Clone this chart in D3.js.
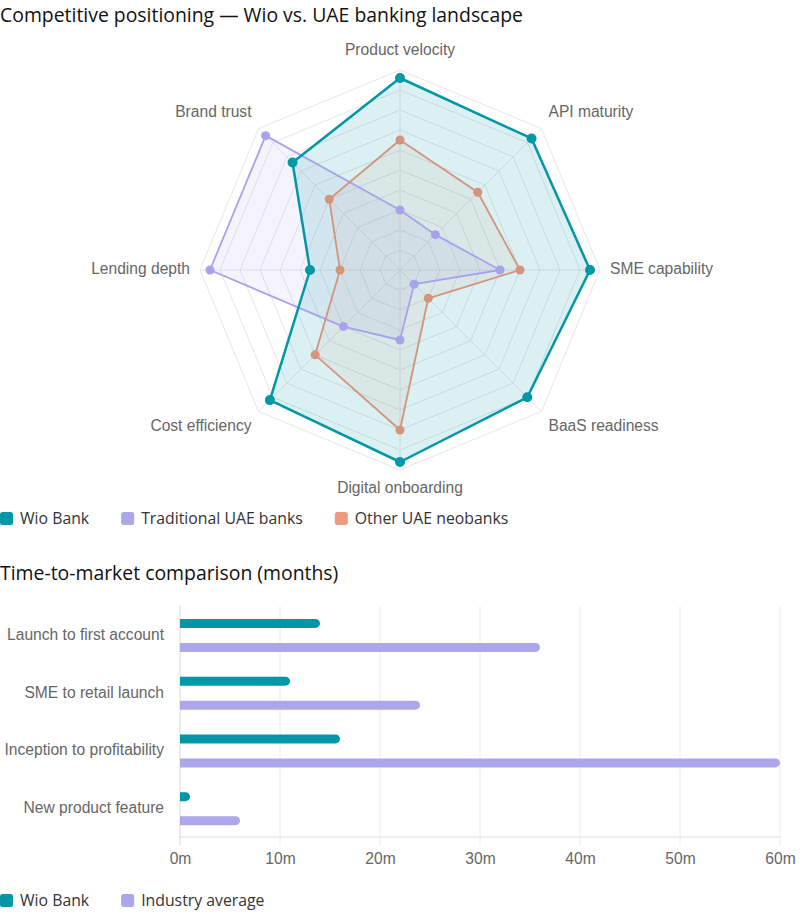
<!DOCTYPE html>
<html>
<head>
<meta charset="utf-8">
<script src="https://cdn.jsdelivr.net/npm/d3@7"></script>
<style>
  body { margin: 0; background: #fff; }
  svg { display: block; }
  .title { font-family: "Open Sans", "Noto Sans", sans-serif; font-size: 19.4px; fill: #111; }
  .legend text { font-family: "Open Sans", "Noto Sans", sans-serif; font-size: 15.8px; fill: #333; }
  .lbl { font-family: "Liberation Sans", Arial, sans-serif; font-size: 15.6px; fill: #666; }
</style>
</head>
<body>
<div id="chart"></div>
<script>
// radar data
var axes = ['Product velocity', 'API maturity', 'SME capability', 'BaaS readiness',
            'Digital onboarding', 'Cost efficiency', 'Lending depth', 'Brand trust'];
var wioScores = [96, 93, 95, 90, 96, 92, 45, 76];
var tradScores = [30, 25, 50, 10, 35, 40, 95, 95];
var neoScores = [65, 55, 60, 20, 80, 60, 30, 50];
var radarSeries = ['Wio Bank', 'Traditional UAE banks', 'Other UAE neobanks'];

// time to market data
var steps = ['Launch to first account', 'SME to retail launch', 'Inception to profitability', 'New product feature'];
var wioMonths = [14, 11, 16, 1];
var industryMonths = [36, 24, 60, 6];
var barSeries = ['Wio Bank', 'Industry average'];
var monthTicks = [0, 10, 20, 30, 40, 50, 60];

var teal = '#0097a7', lavender = '#aca6ea', salmon = '#ef9a7e';

var svg = d3.select('#chart').append('svg')
    .attr('width', 800)
    .attr('height', 922);

// ---------- radar ----------
svg.append('text').attr('class', 'title').attr('x', 0).attr('y', 22)
    .text('Competitive positioning \u2014 Wio vs. UAE banking landscape');

var cx = 400, cy = 270, R = 200;
var rScale = d3.scaleLinear().domain([0, 100]).range([0, R]);
var angle = d3.scaleLinear().domain([0, axes.length]).range([0, 2 * Math.PI]);

function pt(i, v) {
  var a = angle(i);
  return [cx + rScale(v) * Math.sin(a), cy - rScale(v) * Math.cos(a)];
}

var radar = svg.append('g');

// rings
d3.range(10, 101, 10).forEach(function(v) {
  radar.append('polygon')
      .attr('points', axes.map(function(d, i) { return pt(i, v).join(','); }).join(' '))
      .attr('fill', 'none')
      .attr('stroke', '#e6e6e6')
      .attr('stroke-width', 1);
});
axes.forEach(function(d, i) {
  var p = pt(i, 100);
  radar.append('line')
      .attr('x1', cx).attr('y1', cy).attr('x2', p[0]).attr('y2', p[1])
      .attr('stroke', '#e6e6e6');
});

// axis labels
axes.forEach(function(d, i) {
  var a = angle(i);
  var lr = R + 10;
  var x = cx + lr * Math.sin(a), y = cy - lr * Math.cos(a);
  var s = Math.sin(a), c = Math.cos(a);
  var anchor = Math.abs(s) < 0.01 ? 'middle' : (s > 0 ? 'start' : 'end');
  var dy;
  if (c > 0.01) dy = -5;           // upper half: text sits above point
  else if (c < -0.01) dy = 13;     // lower half: text hangs below
  else dy = 4;
  radar.append('text').attr('class', 'lbl')
      .attr('x', x).attr('y', y + dy)
      .attr('text-anchor', anchor)
      .text(d);
});

var line = d3.lineRadial()
    .angle(function(d, i) { return angle(i); })
    .radius(function(d) { return rScale(d); })
    .curve(d3.curveLinearClosed);

var radarData = [
  { name: radarSeries[0], values: wioScores, color: teal, line: teal, fill: 'rgba(0,151,167,0.14)', w: 2.5 },
  { name: radarSeries[1], values: tradScores, color: lavender, line: '#a8a2ec', fill: 'rgba(172,166,234,0.12)', w: 1.8 },
  { name: radarSeries[2], values: neoScores, color: salmon, line: '#d3947b', fill: 'rgba(239,154,126,0.10)', w: 1.8 }
];

// fills first, then outlines and dots
[1, 2, 0].forEach(function(k) {
  var s = radarData[k];
  radar.append('path')
      .attr('transform', 'translate(' + cx + ',' + cy + ')')
      .attr('d', line(s.values))
      .attr('fill', s.fill)
      .attr('stroke', 'none');
});
[1, 2, 0].forEach(function(k) {
  var s = radarData[k];
  radar.append('path')
      .attr('transform', 'translate(' + cx + ',' + cy + ')')
      .attr('d', line(s.values))
      .attr('fill', 'none')
      .attr('stroke', s.line)
      .attr('stroke-width', s.w)
      .attr('stroke-linejoin', 'round');
  radar.selectAll(null)
      .data(s.values)
      .enter().append('circle')
      .attr('cx', function(d, i) { return pt(i, d)[0]; })
      .attr('cy', function(d, i) { return pt(i, d)[1]; })
      .attr('r', k === 0 ? 5 : 4.5)
      .attr('fill', s.line);
});

function legend(y, items) {
  var g = svg.append('g').attr('class', 'legend');
  var x = 0;
  items.forEach(function(it) {
    g.append('rect').attr('x', x).attr('y', y - 6).attr('width', 13).attr('height', 13)
        .attr('rx', 2.5).attr('fill', it.color);
    var t = g.append('text').attr('x', x + 20).attr('y', y + 6).text(it.name);
    x += 20 + t.node().getComputedTextLength() + 32;
  });
}
legend(518, radarData.map(function(s) { return { name: s.name, color: s.color }; }));

// ---------- bars ----------
svg.append('text').attr('class', 'title').attr('x', 0).attr('y', 580)
    .text('Time-to-market comparison (months)');

var bx = d3.scaleLinear().domain([0, 60]).range([180, 780]);
var by = d3.scaleBand().domain(steps).range([606, 837]);

var bars = svg.append('g');

bars.selectAll('.grid')
    .data(monthTicks)
    .enter().append('line')
    .attr('x1', function(d) { return bx(d); })
    .attr('x2', function(d) { return bx(d); })
    .attr('y1', 606).attr('y2', 846)
    .attr('stroke', function(d) { return d === 0 ? '#d9d9d9' : '#ececec'; });

bars.append('line')
    .attr('x1', 180).attr('x2', 780).attr('y1', 837).attr('y2', 837)
    .attr('stroke', '#dcdcdc');

var xAxis = d3.axisBottom(bx).tickValues(monthTicks)
    .tickFormat(function(d) { return d + 'm'; })
    .tickSize(0).tickPadding(16);
var ax = bars.append('g').attr('transform', 'translate(0,837)').call(xAxis);
ax.select('.domain').remove();
ax.selectAll('text').attr('class', 'lbl').attr('font-size', null).attr('font-family', null);

var yAxis = d3.axisLeft(by).tickSize(0).tickPadding(16);
var ay = bars.append('g').attr('transform', 'translate(180,0)').call(yAxis);
ay.select('.domain').remove();
ay.selectAll('text').attr('class', 'lbl').attr('font-size', null).attr('font-family', null);

function barPath(x0, x1, yc, h) {
  var r = h / 2;
  var xe = Math.max(x0 + 0.5, x1 - r);
  return 'M' + x0 + ',' + (yc - r) + 'H' + xe +
      'A' + r + ',' + r + ' 0 0 1 ' + xe + ',' + (yc + r) +
      'H' + x0 + 'Z';
}

var barGroups = [
  { values: wioMonths, color: teal, off: -11.5 },
  { values: industryMonths, color: lavender, off: 12.5 }
];
barGroups.forEach(function(g) {
  bars.selectAll(null)
      .data(steps)
      .enter().append('path')
      .attr('d', function(d, i) {
        var yc = by(d) + by.bandwidth() / 2 + g.off;
        return barPath(bx(0), bx(g.values[i]), yc, 9);
      })
      .attr('fill', g.color);
});

legend(900, [{ name: barSeries[0], color: teal }, { name: barSeries[1], color: lavender }]);
</script>
</body>
</html>
